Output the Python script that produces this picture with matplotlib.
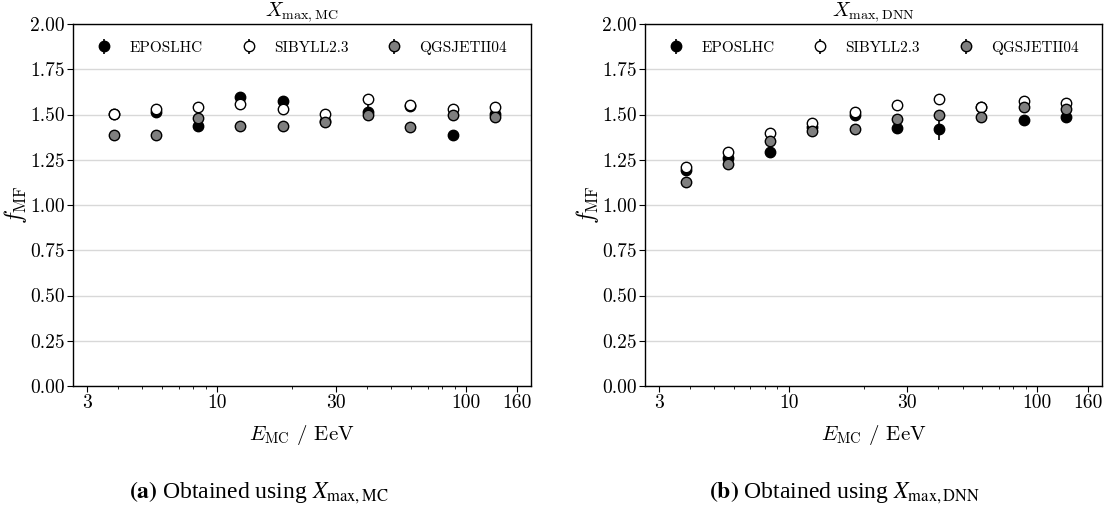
import numpy as np
import matplotlib
matplotlib.use("Agg")
import matplotlib.pyplot as plt
from matplotlib.ticker import FixedLocator, NullFormatter

#---------------------------------
# DATA
#---------------------------------

# energy bin centres / EeV
energy = [3.85, 5.69, 8.41, 12.4, 18.4, 27.2, 40.3, 59.6, 88.1, 130.3]

models = ["EPOSLHC", "SIBYLL2.3", "QGSJETII04"]

# f_MF obtained with Xmax,MC
epos_mc = [1.505, 1.514, 1.435, 1.594, 1.575, 1.465, 1.514, 1.548, 1.384, 1.505]
sibyll_mc = [1.505, 1.529, 1.542, 1.557, 1.528, 1.505, 1.584, 1.555, 1.531, 1.539]
qgs_mc = [1.386, 1.388, 1.478, 1.439, 1.435, 1.456, 1.496, 1.430, 1.496, 1.487]
epos_mc_err = [0.015, 0.02, 0.015, 0.02, 0.015, 0.015, 0.05, 0.02, 0.025, 0.02]
sibyll_mc_err = [0.015, 0.015, 0.015, 0.015, 0.015, 0.015, 0.015, 0.015, 0.015, 0.015]
qgs_mc_err = [0.01, 0.01, 0.01, 0.01, 0.01, 0.01, 0.01, 0.01, 0.01, 0.01]

# f_MF obtained with Xmax,DNN
epos_dnn = [1.193, 1.259, 1.292, 1.433, 1.499, 1.424, 1.420, 1.540, 1.468, 1.487]
sibyll_dnn = [1.209, 1.294, 1.398, 1.453, 1.516, 1.550, 1.585, 1.543, 1.576, 1.564]
qgs_dnn = [1.129, 1.228, 1.354, 1.409, 1.418, 1.477, 1.499, 1.484, 1.543, 1.528]
epos_dnn_err = [0.015, 0.02, 0.02, 0.015, 0.02, 0.02, 0.06, 0.02, 0.02, 0.035]
sibyll_dnn_err = [0.015, 0.015, 0.015, 0.015, 0.015, 0.015, 0.015, 0.015, 0.015, 0.015]
qgs_dnn_err = [0.01, 0.01, 0.01, 0.01, 0.01, 0.01, 0.01, 0.01, 0.01, 0.01]

x_ticks = [3, 10, 30, 100, 160]
y_ticks = [0.0, 0.25, 0.5, 0.75, 1.0, 1.25, 1.5, 1.75, 2.0]

#---------------------------------
# STYLE
#---------------------------------

plt.rcParams["font.family"] = "serif"
plt.rcParams["font.serif"] = ["cmr10", "DejaVu Serif"]
plt.rcParams["mathtext.fontset"] = "cm"
plt.rcParams["axes.formatter.use_mathtext"] = True

face_colors = ["black", "white", "#7f7f7f"]


def draw_panel(ax, series, errors, title):

	for vals, errs, fc, label in zip(series, errors, face_colors, models):
		ax.errorbar(energy, vals, yerr=errs, fmt="o", ms=7.5, mfc=fc, mec="black",
					mew=1.0, ecolor="black", elinewidth=1.2, capsize=0, label=label)

	ax.set_xscale("log")
	ax.set_xlim(2.64, 182)
	ax.set_ylim(0, 2)
	ax.xaxis.set_major_locator(FixedLocator(x_ticks))
	ax.set_xticklabels([str(t) for t in x_ticks])
	minor = [4, 5, 6, 7, 8, 9, 20, 40, 50, 60, 70, 80, 90]
	ax.xaxis.set_minor_locator(FixedLocator(minor))
	ax.xaxis.set_minor_formatter(NullFormatter())
	ax.set_yticks(y_ticks)
	ax.set_yticklabels(["%.2f" % t for t in y_ticks])

	ax.grid(axis="y", color="#d8d8d8", lw=1.0)
	ax.set_axisbelow(True)
	ax.tick_params(which="major", direction="out", length=4, width=0.8, labelsize=14, pad=2)
	ax.tick_params(which="minor", direction="out", length=2.5, width=0.6)
	for sp in ax.spines.values():
		sp.set_linewidth(1.0)

	ax.set_title(title, fontsize=14.5, pad=2)
	ax.set_xlabel(r"$E_{\mathrm{MC}}$ / EeV", fontsize=15, labelpad=8)
	ax.set_ylabel(r"$f_{\mathrm{MF}}$", fontsize=17, labelpad=1)

	ax.legend(loc="upper center", ncol=3, frameon=False, fontsize=11,
			  columnspacing=2.5, handletextpad=1.15, borderaxespad=0.7,
			  handlelength=1.0)


fig = plt.figure(figsize=(11.09, 5.14), dpi=100)
ax1 = fig.add_axes([73 / 1109, 1 - 386 / 514, 458 / 1109, 362 / 514])
ax2 = fig.add_axes([645 / 1109, 1 - 386 / 514, 457 / 1109, 362 / 514])

draw_panel(ax1, [epos_mc, sibyll_mc, qgs_mc], [epos_mc_err, sibyll_mc_err, qgs_mc_err],
		   r"$X_{\mathrm{max,MC}}$")
draw_panel(ax2, [epos_dnn, sibyll_dnn, qgs_dnn], [epos_dnn_err, sibyll_dnn_err, qgs_dnn_err],
		   r"$X_{\mathrm{max,DNN}}$")

# sub-captions
fig.text(259 / 1109, 1 - 493 / 514, r"$\mathbf{(a)}$ Obtained using $X_{\mathrm{max,MC}}$",
		 ha="center", va="center", fontsize=17, family="Liberation Serif", math_fontfamily="stix")
fig.text(845 / 1109, 1 - 493 / 514, r"$\mathbf{(b)}$ Obtained using $X_{\mathrm{max,DNN}}$",
		 ha="center", va="center", fontsize=17, family="Liberation Serif", math_fontfamily="stix")

fig.savefig("out.png", dpi=100)
